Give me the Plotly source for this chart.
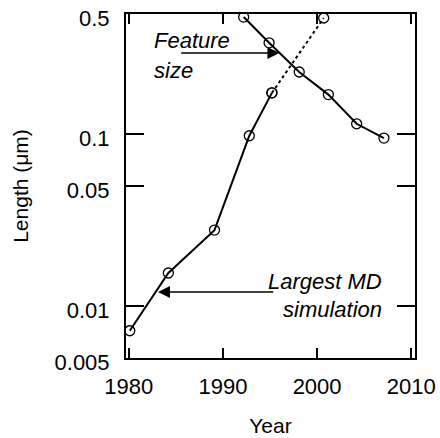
import math
import plotly.graph_objects as go

# Data
feature_years = [1992.2, 1994.9, 1998.1, 2001.2, 2004.2, 2007.1]
feature_size = [0.48, 0.34, 0.23, 0.17, 0.115, 0.095]

md_years_solid = [1980.1, 1984.2, 1989.1, 1992.8, 1995.2]
md_len_solid = [0.0072, 0.0156, 0.0277, 0.098, 0.174]
md_years_proj = [1995.2, 2000.7]
md_len_proj = [0.174, 0.474]

y_tickvals = [0.005, 0.01, 0.05, 0.1, 0.5]
y_ticktext = ["0.005", "0.01", "0.05", "0.1", "0.5"]
x_tickvals = [1980, 1990, 2000, 2010]

FONT = "Liberation Sans, Arial, Helvetica, sans-serif"
marker = dict(symbol="circle-open", size=10, color="black", line=dict(width=1.3, color="black"))

fig = go.Figure()
fig.add_trace(go.Scatter(x=md_years_proj, y=md_len_proj, mode="lines+markers",
                         line=dict(color="black", width=2, dash="dot"), marker=marker))
fig.add_trace(go.Scatter(x=md_years_solid, y=md_len_solid, mode="lines+markers",
                         line=dict(color="black", width=2), marker=marker))
fig.add_trace(go.Scatter(x=feature_years, y=feature_size, mode="lines+markers",
                         line=dict(color="black", width=2), marker=marker))

fig.update_layout(
    width=440, height=438,
    margin=dict(l=126, r=25, t=14, b=80, autoexpand=False),
    paper_bgcolor="white", plot_bgcolor="white",
    showlegend=False, hovermode=False,
    font=dict(family=FONT, size=21, color="black"),
)
fig.update_xaxes(
    range=[1979.7, 2010.4], tickvals=x_tickvals, automargin=False,
    ticks="inside", ticklen=10, tickwidth=1.5, tickcolor="black",
    showline=True, linecolor="black", linewidth=2, mirror="ticks",
    showgrid=False, zeroline=False, ticklabeloverflow="allow",
    tickfont=dict(size=22), ticklabelstandoff=8,
    title=dict(text="Year", font=dict(size=21), standoff=20),
)
fig.update_yaxes(
    type="log", range=[math.log10(0.005), math.log10(0.5)], automargin=False,
    tickvals=y_tickvals, ticktext=y_ticktext,
    ticks="inside", ticklen=18, tickwidth=1.5, tickcolor="black",
    showline=True, linecolor="black", linewidth=2, mirror="ticks",
    showgrid=False, zeroline=False, ticklabeloverflow="allow", ticklabelshift=4,
    tickfont=dict(size=22), ticklabelstandoff=10,
    title=dict(text="Length (μm)", font=dict(size=21), standoff=20),
)

# Arrows
fig.add_annotation(x=1996.0, y=math.log10(0.297), ax=1985.4, ay=math.log10(0.297),
                   xref="x", yref="y", axref="x", ayref="y", text="",
                   showarrow=True, arrowhead=2, arrowsize=1.6, arrowwidth=1.5, arrowcolor="black")
fig.add_annotation(x=1983.1, y=math.log10(0.0121), ax=1995.5, ay=math.log10(0.0121),
                   xref="x", yref="y", axref="x", ayref="y", text="",
                   showarrow=True, arrowhead=2, arrowsize=1.6, arrowwidth=1.5, arrowcolor="black")

# Labels
for txt, xp, yp, anc in [("Feature", 0.090, 0.924, "left"), ("size", 0.090, 0.837, "left"),
                         ("Largest MD", 0.892, 0.221, "right"), ("simulation", 0.892, 0.140, "right")]:
    fig.add_annotation(x=xp, y=yp, xref="paper", yref="paper", text=f"<i>{txt}</i>",
                       showarrow=False, xanchor=anc, yanchor="middle",
                       font=dict(size=22, family=FONT))

# remove the default page margin so the 440x438 figure fills the window exactly
fig.write_html("out.html", config={"displayModeBar": False, "staticPlot": True},
               post_script="document.body.style.margin='0';document.body.style.overflow='hidden';")
